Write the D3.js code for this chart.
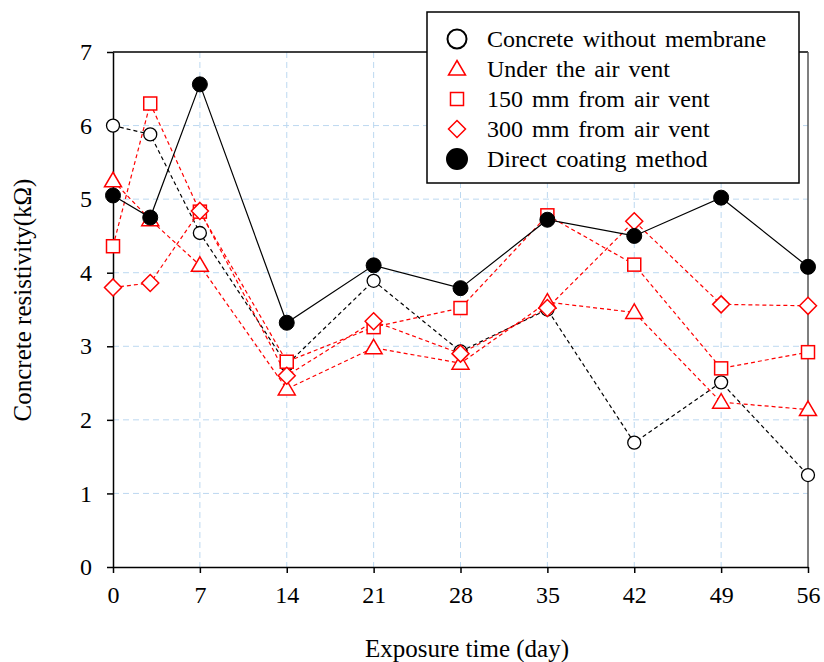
<!DOCTYPE html>
<html>
<head>
<meta charset="utf-8">
<script src="https://cdn.jsdelivr.net/npm/d3@7"></script>
<style>
  body { margin: 0; background: #fff; }
  svg { font-family: "Liberation Serif", "Times New Roman", serif; }
</style>
</head>
<body>
<svg width="824" height="662"></svg>
<script>
// exposure time (day)
let days = [0, 3, 7, 14, 21, 28, 35, 42, 49, 56];
let xTicks = [0, 7, 14, 21, 28, 35, 42, 49, 56];
let yTicks = [0, 1, 2, 3, 4, 5, 6, 7];

let noMembrane = [6.0, 5.88, 4.54, 2.75, 3.89, 2.93, 3.5, 1.69, 2.51, 1.25];
let underVent = [5.25, 4.72, 4.1, 2.42, 2.98, 2.77, 3.6, 3.46, 2.24, 2.14];
let mm150 = [4.36, 6.3, 4.83, 2.79, 3.26, 3.52, 4.78, 4.11, 2.7, 2.92];
let mm300 = [3.8, 3.86, 4.84, 2.6, 3.34, 2.9, 3.52, 4.7, 3.57, 3.55];
let directCoating = [5.05, 4.75, 6.56, 3.32, 4.1, 3.79, 4.72, 4.5, 5.02, 4.08];

let seriesNames = ["Concrete without membrane", "Under the air vent", "150 mm from air vent",
    "300 mm from air vent", "Direct coating method"];

let series = [
    { name: seriesNames[0], values: noMembrane, color: "#000", dash: "4,3", shape: "circle", fill: "#fff" },
    { name: seriesNames[1], values: underVent, color: "#ff0000", dash: "4,3", shape: "triangle", fill: "#fff" },
    { name: seriesNames[2], values: mm150, color: "#ff0000", dash: "4,3", shape: "square", fill: "#fff" },
    { name: seriesNames[3], values: mm300, color: "#ff0000", dash: "4,3", shape: "diamond", fill: "#fff" },
    { name: seriesNames[4], values: directCoating, color: "#000", dash: null, shape: "dot", fill: "#000" }
];

let svg = d3.select("svg"),
    margin = { top: 52, right: 16, bottom: 95, left: 113 },
    width = +svg.attr("width") - margin.left - margin.right,
    height = +svg.attr("height") - margin.top - margin.bottom,
    g = svg.append("g").attr("transform", `translate(${margin.left},${margin.top})`);

let x = d3.scaleLinear().domain([0, 56]).range([0, width]);
let y = d3.scaleLinear().domain([0, 7]).range([height, 0]);

// grid
g.append("g").selectAll("line")
    .data(xTicks.filter(d => d > 0 && d < 56))
    .join("line")
    .attr("x1", d => x(d)).attr("x2", d => x(d))
    .attr("y1", 0).attr("y2", height)
    .attr("stroke", "#bcd8f0").attr("stroke-dasharray", "6,4");
g.append("g").selectAll("line")
    .data(yTicks.filter(d => d > 0 && d < 7))
    .join("line")
    .attr("x1", 0).attr("x2", width)
    .attr("y1", d => y(d)).attr("y2", d => y(d))
    .attr("stroke", "#bcd8f0").attr("stroke-dasharray", "6,4");

// frame top + right
g.append("line").attr("x1", 0).attr("x2", width).attr("y1", 0).attr("y2", 0)
    .attr("stroke", "#000").attr("stroke-width", 1.5);
g.append("line").attr("x1", width).attr("x2", width).attr("y1", 0).attr("y2", height)
    .attr("stroke", "#555").attr("stroke-width", 1.5);

// axes
let xAxis = g.append("g")
    .attr("transform", `translate(0,${height})`)
    .call(d3.axisBottom(x).tickValues(xTicks).tickSize(6).tickSizeOuter(0).tickPadding(13));
let yAxis = g.append("g")
    .call(d3.axisLeft(y).tickValues(yTicks).tickFormat(d3.format("d")).tickSize(6).tickSizeOuter(0).tickPadding(15));
[xAxis, yAxis].forEach(a => {
    a.selectAll("path, line").attr("stroke", "#000").attr("stroke-width", 1.5);
    a.selectAll("text").attr("font-size", 24).attr("font-family", "Liberation Serif").attr("fill", "#000");
});

// lines
let line = d3.line().x((d, i) => x(days[i])).y(d => y(d));
series.forEach(s => {
    g.append("path")
        .datum(s.values)
        .attr("d", line)
        .attr("fill", "none")
        .attr("stroke", s.color)
        .attr("stroke-width", 1.2)
        .attr("stroke-dasharray", s.dash);
});

function marker(sel, shape, color, fill) {
    if (shape === "circle") {
        sel.append("circle").attr("r", 6.5).attr("fill", fill).attr("stroke", color).attr("stroke-width", 1.3);
    } else if (shape === "dot") {
        sel.append("circle").attr("r", 7.5).attr("fill", fill).attr("stroke", color);
    } else if (shape === "triangle") {
        sel.append("path").attr("d", "M0,-8.5L8.5,6L-8.5,6Z").attr("fill", fill).attr("stroke", color).attr("stroke-width", 1.5);
    } else if (shape === "square") {
        sel.append("rect").attr("x", -6.5).attr("y", -6.5).attr("width", 13).attr("height", 13)
            .attr("fill", fill).attr("stroke", color).attr("stroke-width", 1.5);
    } else if (shape === "diamond") {
        sel.append("path").attr("d", "M0,-8.5L8.5,0L0,8.5L-8.5,0Z").attr("fill", fill).attr("stroke", color).attr("stroke-width", 1.5);
    }
}

// markers
series.forEach(s => {
    g.append("g").selectAll("g")
        .data(s.values)
        .join("g")
        .attr("transform", (d, i) => `translate(${x(days[i])},${y(d)})`)
        .each(function () { marker(d3.select(this), s.shape, s.color, s.fill); });
});

// axis titles
svg.append("text")
    .attr("x", 467).attr("y", 657)
    .attr("text-anchor", "middle")
    .attr("font-size", 25)
    .text("Exposure time (day)");
svg.append("text")
    .attr("transform", `translate(31,300) rotate(-90)`)
    .attr("text-anchor", "middle")
    .attr("font-size", 25)
    .text("Concrete resistivity(kΩ)");

// legend
let legend = svg.append("g").attr("transform", "translate(427,12)");
legend.append("rect").attr("width", 372).attr("height", 171)
    .attr("fill", "#fff").attr("stroke", "#000").attr("stroke-width", 1.5);
series.forEach((s, i) => {
    let row = legend.append("g").attr("transform", `translate(0,${27 + i * 30})`);
    let m = row.append("g").attr("transform", "translate(30,0)");
    marker(m, s.shape, s.color, s.shape === "dot" ? "#000" : "#fff");
    m.selectAll("circle").attr("r", s.shape === "dot" ? 10 : 9.5).attr("stroke-width", 2);
    row.append("text").attr("x", 60).attr("y", 8)
        .attr("font-size", 24)
        .attr("word-spacing", 3)
        .text(s.name);
});
</script>
</body>
</html>
